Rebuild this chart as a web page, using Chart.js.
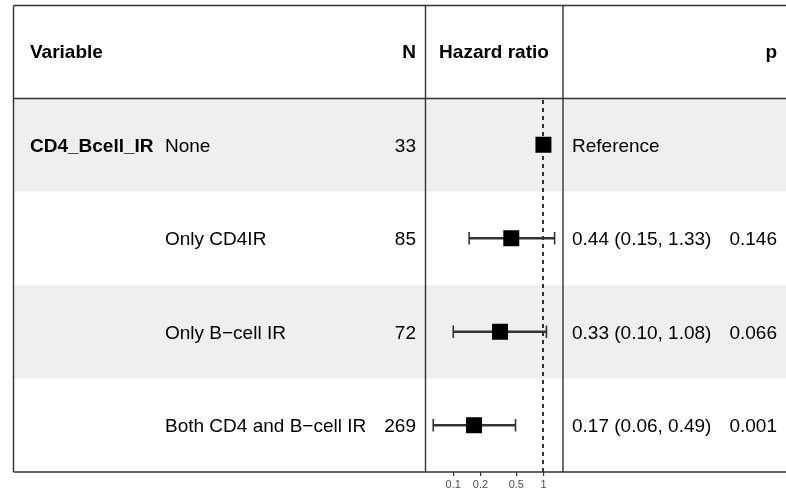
<!DOCTYPE html>
<html><head><meta charset="utf-8">
<script src="https://cdn.jsdelivr.net/npm/chart.js@4.4.1/dist/chart.umd.min.js"></script>
<style>html,body{margin:0;padding:0;background:#fff;} canvas{display:block;}</style>
</head><body>
<canvas id="c" width="786" height="493"></canvas>
<script>
// ---- data ----
const headers = ["Variable", "N", "Hazard ratio", "p"];
const variables = ["CD4_Bcell_IR", "", "", ""];
const levels = ["None", "Only CD4IR", "Only B\u2212cell IR", "Both CD4 and B\u2212cell IR"];
const nValues = [33, 85, 72, 269];
const hazardRatios = [1, 0.44, 0.33, 0.17];
const ciLower = [null, 0.15, 0.10, 0.06];
const ciUpper = [null, 1.33, 1.08, 0.49];
const pValues = ["", "0.146", "0.066", "0.001"];
const xTicks = [0.1, 0.2, 0.5, 1];
const xMin = 0.0486, xMax = 1.648;

const estimates = hazardRatios.map((h, i) =>
  ciLower[i] === null ? "Reference" :
  h.toFixed(2) + " (" + ciLower[i].toFixed(2) + ", " + ciUpper[i].toFixed(2) + ")");

const FONT = '"Liberation Sans", Arial, Helvetica, sans-serif';

const tablePlugin = {
  id: 'forestTable',
  beforeDatasetsDraw(chart) {
    const {ctx, chartArea, scales: {x, y}} = chart;
    const band = (chartArea.bottom - chartArea.top) / levels.length;
    ctx.save();
    levels.forEach((l, i) => {
      if (i % 2 === 0) {
        const cy = y.getPixelForValue(i);
        ctx.fillStyle = '#efefef';
        ctx.fillRect(13.5, cy - band / 2, chart.width - 13.5, band);
      }
    });
    const x1 = Math.round(x.getPixelForValue(1));
    ctx.strokeStyle = '#000';
    ctx.lineWidth = 1.6;
    ctx.setLineDash([4, 4]);
    ctx.beginPath();
    ctx.moveTo(x1, chartArea.top + 2);
    ctx.lineTo(x1, chartArea.bottom);
    ctx.stroke();
    ctx.restore();
  },
  afterDraw(chart) {
    const {ctx, chartArea, scales: {y}} = chart;
    const W = chart.width;
    const L = 13.5, T = 5.5, H = 98.5, B = 472;
    ctx.save();
    ctx.strokeStyle = '#333';
    ctx.lineWidth = 1.4;
    ctx.setLineDash([]);
    const seg = (x0, y0, x1, y1) => { ctx.beginPath(); ctx.moveTo(x0, y0); ctx.lineTo(x1, y1); ctx.stroke(); };
    seg(L, T, W, T); seg(L, H, W, H); seg(L, B, W, B);
    seg(L, T, L, B);
    seg(chartArea.left + 0.5, T, chartArea.left + 0.5, B);
    seg(chartArea.right, T, chartArea.right, B);

    ctx.fillStyle = '#000';
    ctx.textBaseline = 'middle';
    const hy = (T + H) / 2 + 1;
    ctx.font = 'bold 19px ' + FONT;
    ctx.textAlign = 'left'; ctx.fillText(headers[0], 30, hy);
    ctx.textAlign = 'right'; ctx.fillText(headers[1], 416, hy);
    ctx.textAlign = 'center'; ctx.fillText(headers[2], (chartArea.left + chartArea.right) / 2, hy);
    ctx.textAlign = 'right'; ctx.fillText(headers[3], 777, hy);

    levels.forEach((lv, i) => {
      const cy = y.getPixelForValue(i) + 2;
      ctx.font = 'bold 19px ' + FONT;
      ctx.textAlign = 'left';
      ctx.fillText(variables[i], 30, cy);
      ctx.font = '19px ' + FONT;
      ctx.fillText(lv, 165, cy);
      ctx.textAlign = 'right';
      ctx.fillText(String(nValues[i]), 416, cy);
      ctx.textAlign = 'left';
      ctx.fillText(estimates[i], 572, cy);
      ctx.textAlign = 'right';
      ctx.fillText(pValues[i], 777, cy);
    });
    ctx.restore();
  }
};

const whiskers = levels.map((l, i) => ciLower[i] === null ? null : [ciLower[i], ciUpper[i]]);
const caps = [];
levels.forEach((l, i) => {
  if (ciLower[i] !== null) {
    caps.push({x: ciLower[i], y: l});
    caps.push({x: ciUpper[i], y: l});
  }
});
const points = levels.map((l, i) => ({x: hazardRatios[i], y: l}));

new Chart(document.getElementById('c'), {
  type: 'bar',
  data: {
    labels: levels,
    datasets: [
      {
        type: 'bar', indexAxis: 'y', data: whiskers,
        backgroundColor: '#333', borderWidth: 0, barThickness: 1.6, order: 3
      },
      {
        type: 'scatter', data: caps, pointStyle: 'line', rotation: 90,
        radius: 6.2, borderColor: '#333', borderWidth: 1.6, order: 2
      },
      {
        type: 'scatter', data: points, pointStyle: 'rect',
        radius: 11.3, backgroundColor: '#000', borderWidth: 0, order: 1
      }
    ]
  },
  options: {
    responsive: false,
    animation: false,
    events: [],
    layout: {padding: {left: 425, right: 223, top: 98, bottom: 0}},
    plugins: {legend: {display: false}, tooltip: {enabled: false}},
    scales: {
      x: {
        axis: 'x', type: 'logarithmic', min: xMin, max: xMax, bounds: 'data', offset: false,
        afterBuildTicks: s => { s.ticks = xTicks.map(v => ({value: v})); },
        afterFit: s => { s.height = 21; },
        grid: {display: true, offset: false, drawOnChartArea: false, drawTicks: true, tickLength: 4, color: '#333', lineWidth: 1.2},
        border: {display: false},
        ticks: {
          color: '#4d4d4d', font: {family: FONT, size: 11}, padding: 2,
          maxRotation: 0, autoSkip: false, callback: v => String(v)
        }
      },
      y: {
        axis: 'y', type: 'category', offset: true, display: false,
        grid: {display: false}
      }
    }
  },
  plugins: [tablePlugin]
});
</script>
</body></html>
